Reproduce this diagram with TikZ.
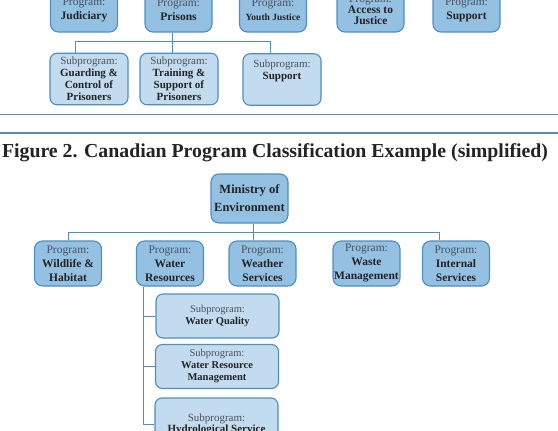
\documentclass[tikz,border=0pt]{standalone}
\usepackage{fontspec}
\setmainfont{Liberation Serif}
\usepackage{xcolor}
\usepackage{tikz}
\definecolor{progfill}{HTML}{94C0E2}
\definecolor{subfill}{HTML}{C2DBEF}
\definecolor{boxline}{HTML}{4E8EC2}
\definecolor{lblgray}{HTML}{4A525C}
\definecolor{namedark}{HTML}{232323}
\newcommand{\lbl}[1]{\textcolor{lblgray}{#1}}

\begin{document}
\begin{tikzpicture}[
        x=1pt, y=-1pt,
        progbox/.style={
            draw=boxline,
            line width=1.1pt,
            fill=progfill,
            rectangle,
            rounded corners=8pt,
            align=center,
            inner sep=1pt,
            minimum width=67pt,
            minimum height=45pt,
            text=namedark,
            font=\fontsize{11.5}{14}\selectfont
        },
        subbox/.style={
            progbox,
            fill=subfill,
            rounded corners=7pt,
            minimum width=78pt,
            minimum height=51.5pt,
            font=\fontsize{11}{12}\selectfont
        },
        lowsub/.style={
            subbox,
            minimum width=123pt,
            minimum height=44pt,
            font=\fontsize{10.5}{12}\selectfont
        },
        bus/.style={draw=boxline, line width=0.9pt},
        sepline/.style={draw=boxline, line width=1.4pt}
    ]
        \useasboundingbox (0,0) rectangle (558,431);
        \clip (0,0) rectangle (558,431);

        % first figure (cut at the top)
        \node[progbox] (judiciary) at (84,9.5) {\lbl{Program:}\\\textbf{Judiciary}};
        \node[progbox] (prisons) at (178.5,9.5) {\lbl{Program:}\\\textbf{Prisons}};
        \node[progbox] (youth) at (273,9.5) {\lbl{Program:}\\{\fontsize{9.5}{14}\selectfont\bfseries Youth Justice}};
        \node[progbox, font=\fontsize{11.5}{11}\selectfont] (access) at (370.5,9.5) {\lbl{Program:}\\\textbf{Access to}\\\textbf{Justice}};
        \node[progbox] (supportA) at (466.5,9.5) {\lbl{Program:}\\\textbf{Support}};

        \node[subbox] (guard) at (89,79) {\lbl{Subprogram:}\\\textbf{Guarding \&}\\\textbf{Control of}\\\textbf{Prisoners}};
        \node[subbox] (train) at (179,79) {\lbl{Subprogram:}\\\textbf{Training \&}\\\textbf{Support of}\\\textbf{Prisoners}};
        \node[subbox] (supportB) at (282,79.5) {\lbl{Subprogram:}\\\textbf{Support}\rule[-20pt]{0pt}{20pt}};

        \draw[bus] ([xshift=-6.5pt]prisons.south) -- ([xshift=-7pt]train.north);
        \draw[bus] ([xshift=-14pt]guard.north) -- ++(0,-11) -| ([xshift=-12pt]supportB.north);

        \coordinate (ruleA) at (0,114.5);
        \coordinate (ruleB) at (0,133);
        \draw[sepline] (ruleA) -- ++(558,0);
        \draw[sepline] (ruleB) -- ++(558,0);

        % second figure
        \node[anchor=base, inner sep=0pt, text=namedark, font=\fontsize{19.8}{24}\selectfont\bfseries] (title) at (275,157) {Figure 2. Canadian Program Classification Example (simplified)};

        \node[progbox, minimum width=77pt, minimum height=49pt, font=\fontsize{12.5}{18}\selectfont\bfseries] (ministry) at (249.5,198.5) {Ministry of\\Environment};

        \node[progbox] (wildlife) at (68,263.5) {\lbl{Program:}\\\textbf{Wildlife \&}\\\textbf{Habitat}};
        \node[progbox] (water) at (170,263.5) {\lbl{Program:}\\\textbf{Water}\\\textbf{Resources}};
        \node[progbox] (weather) at (262.5,263.5) {\lbl{Program:}\\\textbf{Weather}\\\textbf{Services}};
        \node[progbox] (waste) at (366.5,263.5) {\lbl{Program:}\\\textbf{Waste}\\\textbf{Management}};
        \node[progbox] (internal) at (456,263.5) {\lbl{Program:}\\\textbf{Internal}\\\textbf{Services}};

        \draw[bus] ([xshift=3.5pt]ministry.south) coordinate (mdrop) -- (mdrop |- weather.north);
        \draw[bus] (wildlife.north) -- ++(0,-8) -| ([xshift=-16.5pt]internal.north);

        \node[lowsub] (quality) at (217.5,316) {\lbl{Subprogram:}\\\textbf{Water Quality}};
        \node[lowsub] (resource) at (217,366.5) {\lbl{Subprogram:}\\\textbf{Water Resource}\\\textbf{Management}};
        \node[lowsub, minimum height=52pt, font=\fontsize{11}{11}\selectfont] (hydro) at (216.5,424) {\lbl{Subprogram:}\\\textbf{Hydrological Service}};

        \draw[bus] ([xshift=-27pt]water.south) |- (quality.west);
        \draw[bus] ([xshift=-27pt]water.south) |- (resource.west);
        \draw[bus] ([xshift=-27pt]water.south) |- (hydro.west);
    \end{tikzpicture}
\end{document}
